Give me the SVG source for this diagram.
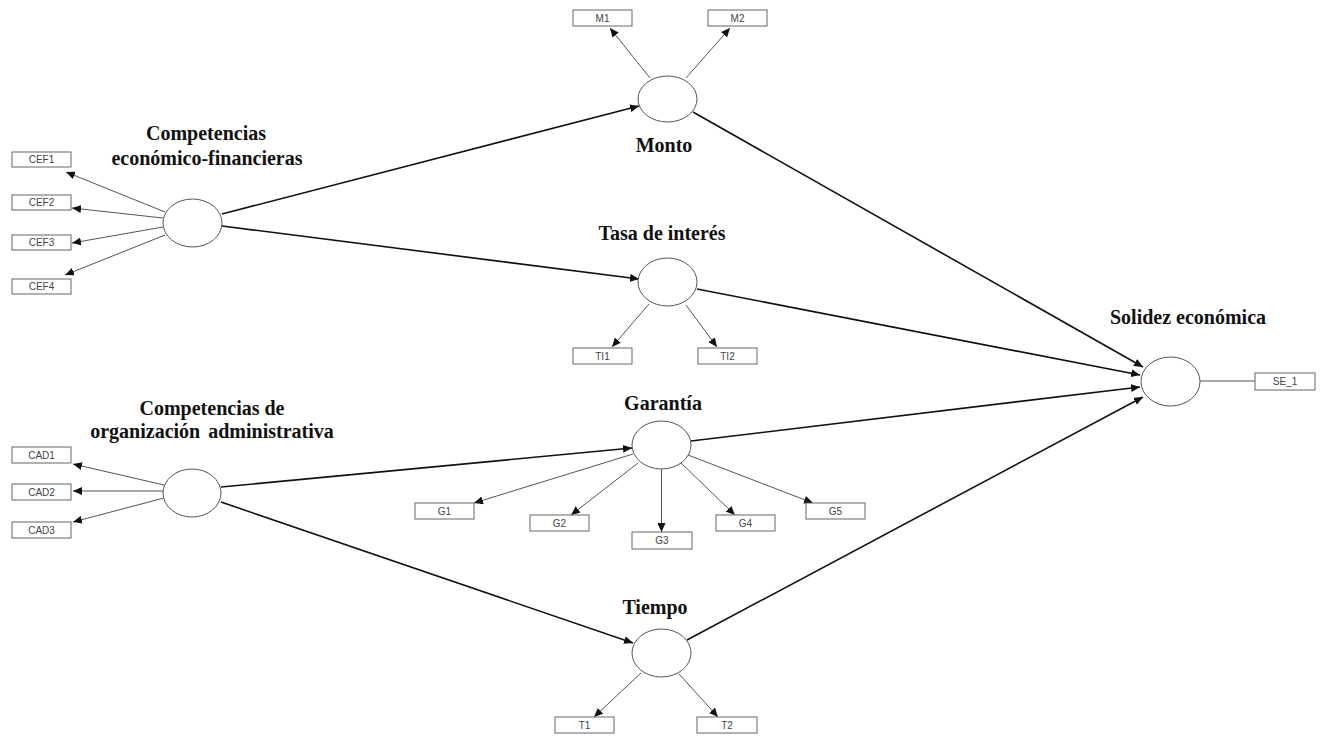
<svg xmlns="http://www.w3.org/2000/svg" width="1322" height="736" viewBox="0 0 1322 736">
<style>
.lat{fill:#fff;stroke:#555;stroke-width:1}
.box{fill:#fff;stroke:#666;stroke-width:1}
.bt{font-family:"Liberation Sans",Arial,sans-serif;font-size:10px;fill:#444;text-anchor:middle}
.tt{font-family:"Liberation Serif","Times New Roman",serif;font-size:20px;font-weight:bold;fill:#111;text-anchor:middle}
.s{stroke:#111;stroke-width:1.6;fill:none;marker-end:url(#ab)}
.i{stroke:#555;stroke-width:1;fill:none;marker-end:url(#ai)}
.p{stroke:#555;stroke-width:1;fill:none}
</style>
<defs>
<marker id="ab" markerUnits="userSpaceOnUse" markerWidth="10" markerHeight="8" refX="9" refY="4" orient="auto"><path d="M0,0 L9,4 L0,8 z" fill="#111"/></marker>
<marker id="ai" markerUnits="userSpaceOnUse" markerWidth="10" markerHeight="8" refX="9" refY="4" orient="auto"><path d="M0,0 L9,4 L0,8 z" fill="#111"/></marker>
</defs>
<rect width="1322" height="736" fill="#fff"/>
<g id="connectors">
<line class="s" x1="222" y1="214" x2="639" y2="106"/>
<line class="s" x1="222" y1="226" x2="639" y2="279"/>
<line class="s" x1="221" y1="487" x2="632" y2="448"/>
<line class="s" x1="221" y1="502" x2="633" y2="643"/>
<line class="s" x1="693" y1="112" x2="1143" y2="367"/>
<line class="s" x1="697" y1="289" x2="1140" y2="375"/>
<line class="s" x1="691" y1="441" x2="1140" y2="387"/>
<line class="s" x1="687" y1="640" x2="1143" y2="397"/>
<line class="p" x1="1200" y1="381" x2="1255" y2="381"/>
<line class="i" x1="165" y1="212" x2="66" y2="172"/>
<line class="i" x1="163" y1="218" x2="72" y2="208"/>
<line class="i" x1="163" y1="227" x2="72" y2="243"/>
<line class="i" x1="165" y1="235" x2="65" y2="275"/>
<line class="i" x1="650" y1="78" x2="610" y2="28"/>
<line class="i" x1="686" y1="78" x2="730" y2="28"/>
<line class="i" x1="649" y1="304" x2="612" y2="347"/>
<line class="i" x1="686" y1="305" x2="717" y2="347"/>
<line class="i" x1="164" y1="485" x2="73" y2="464"/>
<line class="i" x1="163" y1="491" x2="73" y2="491"/>
<line class="i" x1="164" y1="498" x2="73" y2="522"/>
<line class="i" x1="633" y1="454" x2="474" y2="503"/>
<line class="i" x1="638" y1="463" x2="571" y2="515"/>
<line class="i" x1="661.5" y1="469" x2="661.5" y2="532"/>
<line class="i" x1="681" y1="463" x2="735" y2="515"/>
<line class="i" x1="688" y1="455" x2="813" y2="503"/>
<line class="i" x1="641" y1="673" x2="594" y2="717"/>
<line class="i" x1="679" y1="674" x2="718" y2="717"/>
</g>
<g id="CEF">
<ellipse class="lat" cx="192.5" cy="223" rx="29.5" ry="24"/>
<text class="tt" x="206" y="140">Competencias</text>
<text class="tt" x="207" y="165">económico-financieras</text>
</g>
<g id="CAD">
<ellipse class="lat" cx="192" cy="493" rx="29" ry="24"/>
<text class="tt" x="212" y="415">Competencias de</text>
<text class="tt" x="212" y="438" word-spacing="3">organización administrativa</text>
</g>
<g id="Monto">
<ellipse class="lat" cx="667.5" cy="99" rx="29.5" ry="23"/>
<text class="tt" x="664" y="152">Monto</text>
</g>
<g id="Tasa">
<ellipse class="lat" cx="667.5" cy="282" rx="29.5" ry="24"/>
<text class="tt" x="662" y="240">Tasa de interés</text>
</g>
<g id="Garantia">
<ellipse class="lat" cx="661.5" cy="445" rx="29.5" ry="24"/>
<text class="tt" x="663" y="410">Garantía</text>
</g>
<g id="Tiempo">
<ellipse class="lat" cx="661.5" cy="653" rx="29.5" ry="24"/>
<text class="tt" x="655" y="614">Tiempo</text>
</g>
<g id="Solidez">
<ellipse class="lat" cx="1170.5" cy="381.5" rx="29.5" ry="24.5"/>
<text class="tt" x="1188" y="324">Solidez económica</text>
</g>
<g id="CEF1"><rect class="box" x="12" y="152" width="59" height="15"/><text class="bt" x="41.5" y="163">CEF1</text></g>
<g id="CEF2"><rect class="box" x="12" y="195" width="59" height="15"/><text class="bt" x="41.5" y="206">CEF2</text></g>
<g id="CEF3"><rect class="box" x="12" y="235" width="59" height="15"/><text class="bt" x="41.5" y="246">CEF3</text></g>
<g id="CEF4"><rect class="box" x="12" y="279" width="59" height="15"/><text class="bt" x="41.5" y="290">CEF4</text></g>
<g id="M1"><rect class="box" x="573" y="10" width="59" height="16"/><text class="bt" x="602.5" y="21.5">M1</text></g>
<g id="M2"><rect class="box" x="708" y="10" width="59" height="16"/><text class="bt" x="737.5" y="21.5">M2</text></g>
<g id="TI1"><rect class="box" x="573" y="348" width="59" height="16"/><text class="bt" x="602.5" y="359.5">TI1</text></g>
<g id="TI2"><rect class="box" x="698" y="348" width="59" height="16"/><text class="bt" x="727.5" y="359.5">TI2</text></g>
<g id="CAD1"><rect class="box" x="12" y="447" width="59" height="16"/><text class="bt" x="41.5" y="458.5">CAD1</text></g>
<g id="CAD2"><rect class="box" x="12" y="484" width="59" height="16"/><text class="bt" x="41.5" y="495.5">CAD2</text></g>
<g id="CAD3"><rect class="box" x="12" y="522" width="59" height="16"/><text class="bt" x="41.5" y="533.5">CAD3</text></g>
<g id="G1"><rect class="box" x="415" y="503" width="59" height="16"/><text class="bt" x="444.5" y="514.5">G1</text></g>
<g id="G2"><rect class="box" x="530" y="515" width="59" height="16"/><text class="bt" x="559.5" y="526.5">G2</text></g>
<g id="G3"><rect class="box" x="632" y="532" width="60" height="17"/><text class="bt" x="662" y="544">G3</text></g>
<g id="G4"><rect class="box" x="716" y="515" width="59" height="16"/><text class="bt" x="745.5" y="526.5">G4</text></g>
<g id="G5"><rect class="box" x="806" y="503" width="59" height="16"/><text class="bt" x="835.5" y="514.5">G5</text></g>
<g id="T1"><rect class="box" x="555" y="717" width="59" height="16"/><text class="bt" x="584.5" y="728.5">T1</text></g>
<g id="T2"><rect class="box" x="697" y="717" width="60" height="16"/><text class="bt" x="727" y="728.5">T2</text></g>
<g id="SE_1"><rect class="box" x="1255" y="373" width="60" height="17"/><text class="bt" x="1285" y="385">SE_1</text></g>
</svg>
